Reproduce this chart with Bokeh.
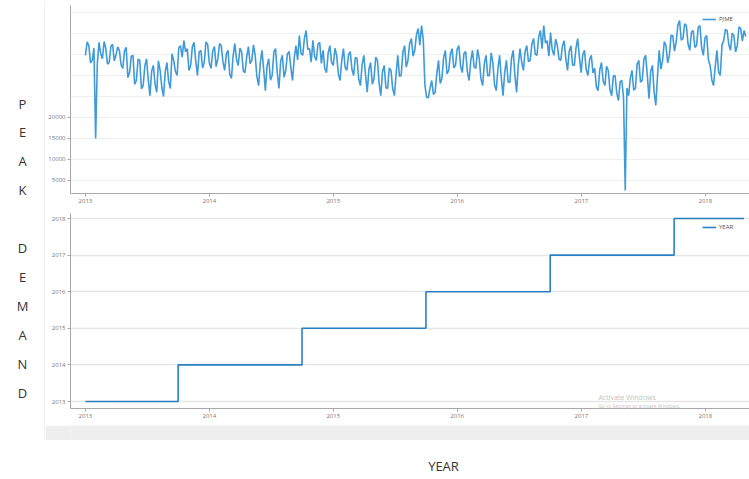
import pandas as pd
from bokeh.plotting import figure
from bokeh.layouts import column, row
from bokeh.models import Range1d, FixedTicker, DatetimeTickFormatter, Span, Label
from bokeh.core.properties import value
from bokeh.embed import file_html
from bokeh.resources import INLINE

# ---------------- data ----------------
start_date = "2013-01-01"
series_name = "PJME"
peak_mw = [
    34800, 38000, 37100, 33000, 33600, 36500, 15000, 32800, 37900, 35200,
    34000, 38100, 36400, 32700, 33100, 37000, 37400, 33500, 34800, 36800,
    36000, 32500, 31700, 35800, 36700, 29500, 30700, 34600, 34800, 27900,
    28800, 33900, 33600, 26800, 27600, 32300, 34000, 29000, 25200, 31000,
    32400, 28000, 26000, 33500, 31200, 27200, 25000, 30800, 33100, 28600,
    26900, 35200, 33600, 31000, 30000, 36600, 37100, 34400, 38300, 35600,
    36400, 31200, 32400, 36900, 37900, 33400, 30000, 35600, 36000, 31800,
    33100, 38000, 37400, 33000, 31700, 35900, 36900, 32100, 34000, 37600,
    37100, 33300, 31200, 35100, 36000, 30300, 29300, 34700, 37600, 33800,
    32400, 36500, 35700, 31100, 30700, 34400, 36900, 32800, 33600, 37300,
    34800, 29800, 27600, 33000, 36000, 31400, 26400, 32300, 34000, 28900,
    30000, 35600, 36400, 30600, 26900, 33400, 34800, 29600, 31200, 35200,
    35700, 31900, 28800, 34200, 37100, 33700, 39500, 35300, 34800, 38900,
    40700, 36200, 36400, 33200, 38400, 34500, 33600, 37500, 37900, 32900,
    36000, 31600, 30700, 35400, 37100, 33100, 32400, 36500, 34800, 30400,
    28800, 33600, 36400, 31900, 31200, 35000, 35700, 31500, 30000, 34300,
    34000, 29100, 27600, 32600, 34800, 30200, 26000, 31500, 33100, 27900,
    29300, 34400, 33600, 28200, 25200, 30900, 32400, 27100, 26900, 31800,
    31200, 26900, 25200, 30200, 34800, 29800, 30000, 35500, 37100, 32000,
    33600, 37600, 38800, 34600, 36000, 39700, 41200, 37200, 41900, 38600,
    27600, 24800, 24700, 27000, 28800, 25500, 26000, 30500, 33600, 28100,
    29300, 34200, 36000, 30400, 31200, 35100, 36400, 31800, 32400, 36300,
    37100, 32200, 30700, 35300, 35700, 30900, 28800, 33500, 36000, 32000,
    31700, 36200, 34000, 29200, 27600, 32900, 34800, 29900, 30000, 35400,
    33100, 27800, 26400, 31600, 34800, 29400, 25200, 30800, 33600, 28500,
    28300, 34100, 36000, 30100, 26000, 32500, 36400, 33200, 31200, 35800,
    37100, 33300, 33600, 37500, 38800, 35100, 34800, 39200, 40700, 36400,
    41900, 37700, 38300, 34600, 40200, 36100, 34800, 38700, 37100, 33900,
    33600, 37000, 38300, 34000, 31200, 35800, 37100, 32500, 32400, 36600,
    38800, 34300, 30700, 35000, 36000, 31400, 30000, 33800, 34800, 30600,
    31700, 27300, 26400, 31300, 33100, 28700, 27600, 32200, 31200, 26600,
    25200, 29900, 30000, 25900, 24000, 28600, 28800, 24600, 2600, 27000,
    25200, 29400, 31200, 26500, 26900, 32700, 33600, 28400, 28800, 33900,
    34800, 30100, 24500, 31000, 32400, 26100, 22900, 29800, 36000, 31500,
    33600, 38100, 37100, 33000, 34800, 39600, 39500, 35800, 37900, 42000,
    43100, 38400, 38800, 42300, 41900, 37500, 36000, 40300, 40700, 36700,
    37100, 41500, 41900, 36600, 34800, 39000, 39500, 33700, 32400, 29000,
    27600, 32100, 36000, 30800, 30000, 37300, 38300, 41000, 40700, 37400,
    36000, 40100, 39500, 35600, 37100, 41600, 41200, 38200, 40700, 39300,
]
peak_dates = pd.date_range(start_date, periods=len(peak_mw), freq="5D")

year_change_dates = ["2013-01-01", "2013-10-01", "2014-10-01", "2015-10-01",
                     "2016-10-01", "2017-10-01", "2018-04-25"]
year_values = [2013, 2014, 2015, 2016, 2017, 2018, 2018]

x_tick_years = [2013, 2014, 2015, 2016, 2017, 2018]
top_y_ticks = [5000, 10000, 15000, 20000]
top_grid_ticks = [5000, 10000, 15000, 20000, 25000, 30000, 35000, 40000, 45000]
bottom_y_ticks = [2013, 2014, 2015, 2016, 2017, 2018]

side_title = "PEAK DEMAND"
x_title = "YEAR"

# ---------------- helpers ----------------
def ms(d):
    return pd.Timestamp(d).value / 1e6

x_ticks_ms = [ms(f"{y}-01-01") for y in x_tick_years]
x_range = Range1d(pd.Timestamp("2012-11-18").to_pydatetime(),
                  pd.Timestamp("2018-05-11").to_pydatetime())

FONT = "Open Sans"


def style_axes(p):
    for ax in (p.xaxis, p.yaxis):
        ax.axis_line_color = "#a8a8a8"
        ax.major_tick_line_color = "#a8a8a8"
        ax.major_tick_out = 3
        ax.major_tick_in = 0
        ax.minor_tick_line_color = None
        ax.major_label_text_font_size = "6px"
        ax.major_label_text_color = "#777777"
        ax.major_label_text_font = FONT
        ax.major_label_standoff = 2
    p.xaxis.ticker = FixedTicker(ticks=x_ticks_ms)
    p.xaxis.formatter = DatetimeTickFormatter(years="%Y", months="%Y", days="%Y",
                                              hours="%Y", minutes="%Y")
    p.xgrid.visible = False
    p.outline_line_color = None


def style_legend(p):
    lg = p.legend[0]
    lg.location = "top_right"
    lg.label_text_font_size = "6px"
    lg.label_text_font = FONT
    lg.label_text_color = "#555555"
    lg.glyph_width = 14
    lg.glyph_height = 6
    lg.background_fill_alpha = 0
    lg.border_line_alpha = 0
    lg.padding = 2
    lg.margin = 8
    lg.label_standoff = 3
    lg.spacing = 0


# ---------------- top chart ----------------
top = figure(width=704, height=213, x_axis_type="datetime", x_range=x_range,
             y_range=Range1d(1900, 46670), output_backend="svg",
             toolbar_location=None, min_border_left=25, min_border_right=0,
             min_border_top=5, min_border_bottom=20)
top.line(peak_dates, peak_mw, line_color="#3f9bd8", line_width=1.6,
         legend_label=series_name)
style_axes(top)
top.yaxis.ticker = FixedTicker(ticks=top_y_ticks)
top.ygrid.ticker = FixedTicker(ticks=top_grid_ticks)
top.ygrid.grid_line_color = "#eeeeee"
style_legend(top)

# ---------------- bottom chart ----------------
bottom = figure(width=704, height=212, x_axis_type="datetime", x_range=x_range,
                y_range=Range1d(2012.809, 2018.137), output_backend="svg",
                toolbar_location=None, min_border_left=25, min_border_right=0,
                min_border_top=0, min_border_bottom=17)
bottom.step(pd.to_datetime(year_change_dates), year_values, mode="after",
            line_color="#2a80c4", line_width=1.6, legend_label=x_title)
style_axes(bottom)
bottom.yaxis.ticker = FixedTicker(ticks=bottom_y_ticks)
bottom.ygrid.ticker = FixedTicker(ticks=bottom_y_ticks)
bottom.ygrid.grid_line_color = "#e6e6e6"
bottom.ygrid.grid_line_width = 1.5
style_legend(bottom)
bottom.add_layout(Label(x=ms("2017-02-20"), y=2013.11, text="Activate Windows",
                        text_font_size="7px", text_color="#c4c4c4",
                        text_font=FONT, text_baseline="middle"))
bottom.add_layout(Label(x=ms("2017-02-20"), y=2012.89,
                        text="Go to Settings to activate Windows.",
                        text_font_size="5px", text_color="#c4c4c4",
                        text_font=FONT, text_baseline="middle"))

# ---------------- grey band under charts ----------------
band = figure(width=704, height=15, output_backend="svg", toolbar_location=None,
              min_border=0, x_range=Range1d(0, 1), y_range=Range1d(0, 1),
              background_fill_color="#eeeeee", border_fill_color="#eeeeee")
band.axis.visible = False
band.grid.visible = False
band.outline_line_color = None

# ---------------- vertical side title ----------------
letters = figure(width=45, height=440, output_backend="svg", toolbar_location=None,
                 min_border=0, x_range=Range1d(0, 45), y_range=Range1d(440, 0))
letters.axis.visible = False
letters.grid.visible = False
letters.outline_line_color = None
chars = [c for c in side_title]
ys = [103 + i * 28.9 for i in range(len(chars))]
keep = [i for i, c in enumerate(chars) if c != " "]
letters.text(x=[22] * len(keep), y=[ys[i] for i in keep], text=[chars[i] for i in keep],
             text_font=value(FONT), text_font_size="13px", text_color="#333333",
             text_align="center", text_baseline="middle")
letters.add_layout(Span(location=44.5, dimension="height", line_color="#e2e2e2",
                        line_width=1))

# ---------------- x title ----------------
xt = figure(width=749, height=37, output_backend="svg", toolbar_location=None,
            min_border=0, x_range=Range1d(0, 749), y_range=Range1d(477, 440))
xt.axis.visible = False
xt.grid.visible = False
xt.outline_line_color = None
xt.text(x=[443], y=[465], text=[x_title], text_font=value(FONT),
        text_font_size="13px", text_color="#333333", text_align="center",
        text_baseline="middle")

layout = column(row(letters, column(top, bottom, band)), xt)
open("out.html", "w").write(file_html(layout, INLINE))
